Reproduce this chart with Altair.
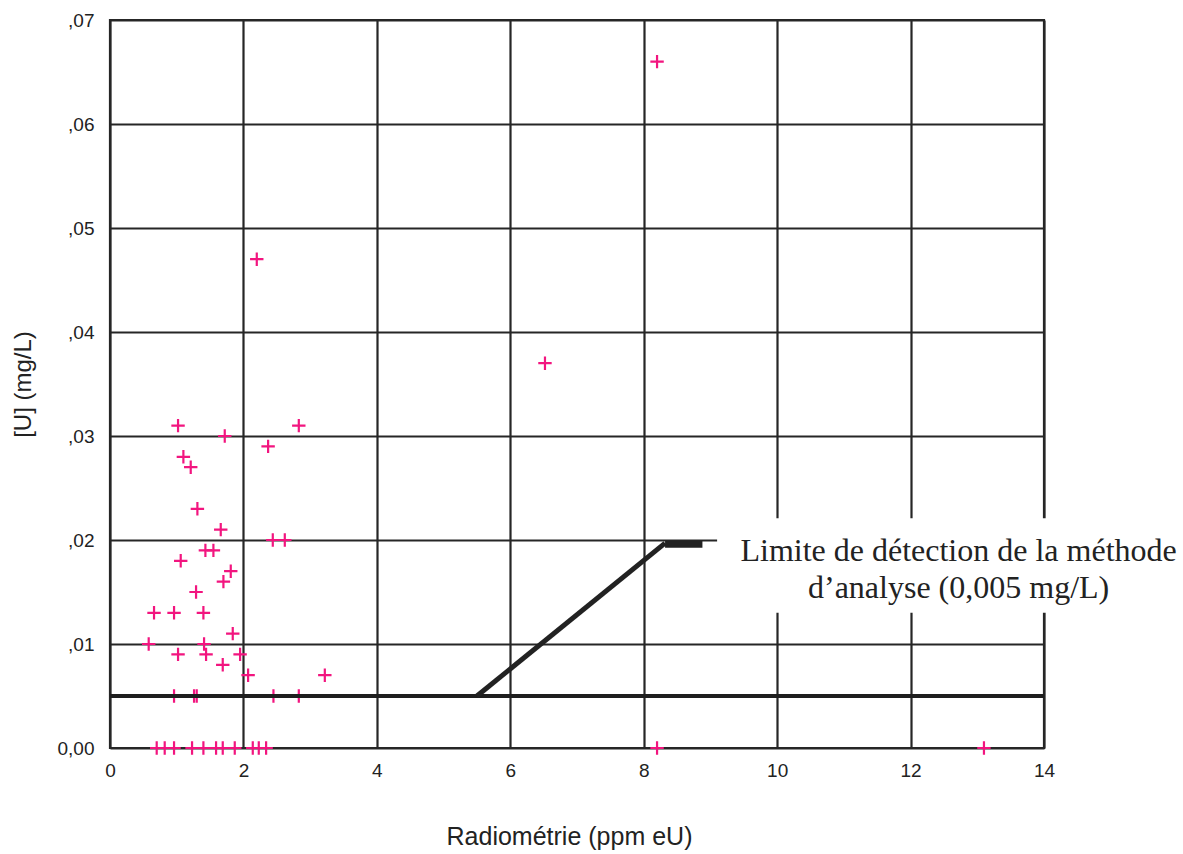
import altair as alt
import pandas as pd

# Scatter data: Radiométrie (ppm eU) vs [U] (mg/L)
rad = [1.02, 1.72, 2.83, 2.37, 1.10, 1.21, 1.31, 1.66, 2.44, 2.62, 1.43, 1.55,
       1.06, 1.81, 1.70, 1.29, 0.66, 0.96, 1.40, 1.84, 0.58, 1.41, 1.02, 1.44,
       1.95, 1.69, 2.07, 3.22, 2.20, 6.52, 8.20,
       0.96, 1.26, 1.30, 2.45, 2.83,
       0.70, 0.82, 0.96, 1.23, 1.40, 1.59, 1.69, 1.87, 2.14, 2.23, 2.34, 8.20, 13.10]
uconc = [0.031, 0.030, 0.031, 0.029, 0.028, 0.027, 0.023, 0.021, 0.020, 0.020, 0.019, 0.019,
         0.018, 0.017, 0.016, 0.015, 0.013, 0.013, 0.013, 0.011, 0.010, 0.010, 0.009, 0.009,
         0.009, 0.008, 0.007, 0.007, 0.047, 0.037, 0.066,
         0.005, 0.005, 0.005, 0.005, 0.005,
         0.0, 0.0, 0.0, 0.0, 0.0, 0.0, 0.0, 0.0, 0.0, 0.0, 0.0, 0.0, 0.0]

x_ticks = [0, 2, 4, 6, 8, 10, 12, 14]
y_ticks = [0.0, 0.01, 0.02, 0.03, 0.04, 0.05, 0.06, 0.07]

# Detection limit line and annotation
limit_value = 0.005
limit_x = [0, 14]
leader_x = [5.5, 8.32]
leader_y = [0.005, 0.0197]
stub_x = [8.32, 8.88]
stub_y = [0.0196, 0.0196]
box_x = [9.1, 16.2]
box_y = [0.0130, 0.0221]
note_lines = ["Limite de détection de la méthode", "d\u2019analyse (0,005 mg/L)"]
note_x = [12.72, 12.72]
note_y = [0.01795, 0.01445]

pts = pd.DataFrame({"x": rad, "y": uconc})
xs = alt.Scale(domain=[0, 14], nice=False, zero=False)
ys = alt.Scale(domain=[0, 0.07], nice=False, zero=False)

grid_col = "#262626"

base_x = alt.X("x:Q", scale=xs, axis=alt.Axis(
    values=x_ticks, format="d", title="Radiométrie (ppm eU)", grid=True, gridColor=grid_col,
    gridWidth=2.2, gridOpacity=1, domain=False, ticks=False, labelFontSize=19,
    labelFont="Liberation Sans", labelColor="#222", labelPadding=13, labelFlush=False,
    titleFont="Liberation Sans", titleFontSize=25,
    titleFontWeight="normal", titleColor="#222", titleX=459, titleY=88,
    titleBaseline="middle", titleAlign="center"))
base_y = alt.Y("y:Q", scale=ys, axis=alt.Axis(
    values=y_ticks, title="[U] (mg/L)", grid=True, gridColor=grid_col, gridWidth=2.2,
    gridOpacity=1, domain=False, ticks=False, labelFontSize=19, labelFont="Liberation Sans",
    labelColor="#222", labelPadding=16, labelFlush=False,
    labelExpr="datum.value == 0 ? '0,00' : ',' + slice(format(datum.value, '.2f'), 2)",
    titleFont="Liberation Sans", titleFontSize=24, titleFontWeight="normal", titleColor="#222",
    titleX=-87, titleY=364, titleAngle=-90, titleBaseline="middle", titleAlign="center"))

points = alt.Chart(pts).mark_point(
    shape="M-1,0L1,0M0,-1L0,1", size=180, strokeWidth=2.2, color="#f2157f", opacity=1
).encode(x=base_x, y=base_y)

limit = alt.Chart(pd.DataFrame({"x": limit_x, "y": [limit_value] * 2})).mark_line(
    color="#1e1e1e", strokeWidth=4).encode(x=alt.X("x:Q", scale=xs), y=alt.Y("y:Q", scale=ys))

leader = alt.Chart(pd.DataFrame({"x": leader_x, "y": leader_y})).mark_line(
    color="#222", strokeWidth=5).encode(x=alt.X("x:Q", scale=xs), y=alt.Y("y:Q", scale=ys))

stub = alt.Chart(pd.DataFrame({"x": stub_x, "y": stub_y})).mark_line(
    color="#222", strokeWidth=7).encode(x=alt.X("x:Q", scale=xs), y=alt.Y("y:Q", scale=ys))

box = alt.Chart(pd.DataFrame({"x": [box_x[0]], "x2": [box_x[1]], "y": [box_y[0]], "y2": [box_y[1]]})).mark_rect(
    color="white", clip=False).encode(
    x=alt.X("x:Q", scale=xs), x2="x2:Q", y=alt.Y("y:Q", scale=ys), y2="y2:Q")

note = alt.Chart(pd.DataFrame({"x": note_x, "y": note_y, "t": note_lines})).mark_text(
    font="Liberation Serif", fontSize=32, color="#222", align="center", baseline="alphabetic"
).encode(x=alt.X("x:Q", scale=xs), y=alt.Y("y:Q", scale=ys), text="t:N")

chart = alt.layer(points, limit, leader, stub, box, note).properties(
    width=934, height=728,
    autosize=alt.AutoSizeParams(type="none"),
    padding={"left": 110, "top": 20, "right": 139, "bottom": 106},
).configure_view(stroke=grid_col, strokeWidth=2.2)

chart.save("out.html", embed_options={"renderer": "svg", "actions": False})
